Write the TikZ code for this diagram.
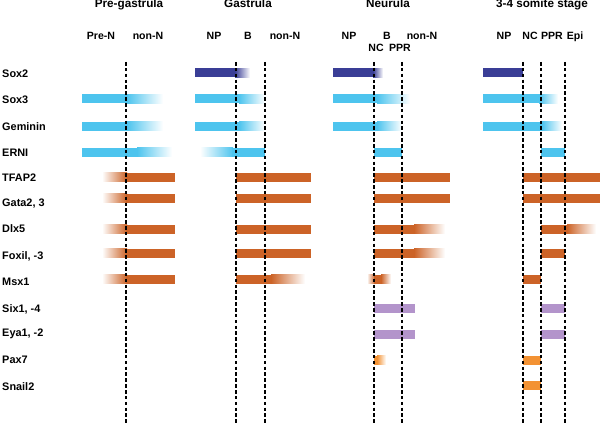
\documentclass[tikz,border=0pt]{standalone}
\usepackage{fontspec}
\setmainfont{Liberation Sans}
\usepackage{xcolor}
\usepackage{tikz}
\usetikzlibrary{positioning}
\definecolor{DeepBlue}{RGB}{58,62,150}
\definecolor{SkyBlue}{RGB}{77,196,238}
\definecolor{RustBrown}{RGB}{204,99,39}
\definecolor{SoftPurple}{RGB}{179,148,203}
\definecolor{WarmOrange}{RGB}{243,146,51}

\begin{document}
\begin{tikzpicture}[
  x=0.03cm, y=-0.03cm,
  stage/.style={font=\fontsize{10}{12}\selectfont\bfseries, anchor=base, inner sep=0pt},
  region/.style={font=\fontsize{9}{11}\selectfont\bfseries, anchor=base, inner sep=0pt},
  gene/.style={font=\fontsize{9.3}{11}\selectfont\bfseries, anchor=west, inner sep=0pt},
  divider/.style={black, line width=0.9pt, dash pattern=on 3pt off 2pt}
]
\useasboundingbox (0,0) rectangle (600,425);

% Stage headings
\node[stage] (pregas) at (129,8) {Pre-gastrula};
\node[stage] (gas) at (248,8) {Gastrula};
\node[stage] (neur) at (388,8) {Neurula};
\node[stage] (somite) at (542,8) {3-4 somite stage};

% Region labels
\node[region] (pgpre) at (101,40) {Pre-N};
\node[region] (pgnon) at (148,40) {non-N};
\node[region] (gnp) at (214,40) {NP};
\node[region] (gb) at (248,40) {B};
\node[region] (gnon) at (285,40) {non-N};
\node[region] (nnp) at (349,40) {NP};
\node[region] (nb) at (387,40) {B};
\node[region] (nnon) at (422,40) {non-N};
\node[region] (nnc) at (376,52) {NC};
\node[region] (nppr) at (400,52) {PPR};
\node[region] (snp) at (504,40) {NP};
\node[region] (snc) at (530,40) {NC};
\node[region] (sppr) at (552,40) {PPR};
\node[region] (sepi) at (575,40) {Epi};

% Gene names
\node[gene] (sox2) at (2,74) {Sox2};
\node[gene] (sox3) at (2,100) {Sox3};
\node[gene] (gem) at (2,127) {Geminin};
\node[gene] (erni) at (2,153) {ERNI};
\node[gene] (tfap) at (2,178) {TFAP2};
\node[gene] (gata) at (2,204) {Gata2, 3};
\node[gene] (dlx) at (2,229) {Dlx5};
\node[gene] (foxi) at (2,256) {Foxil, -3};
\node[gene] (msx) at (2,282) {Msx1};
\node[gene] (six) at (2,309) {Six1, -4};
\node[gene] (eya) at (2,334) {Eya1, -2};
\node[gene] (pax) at (2,360) {Pax7};
\node[gene] (snail) at (2,387) {Snail2};

% Pre-gastrula
\shade[left color=SkyBlue, right color=white] (127,94.5) rectangle (163,103.5);
\fill[SkyBlue] (82,94.5) rectangle (128,103.5);
\shade[left color=SkyBlue, right color=white] (127,121.5) rectangle (163,130.5);
\fill[SkyBlue] (82,121.5) rectangle (128,130.5);
\shade[left color=SkyBlue, right color=white] (137,147.5) rectangle (172,156.5);
\fill[SkyBlue] (82,147.5) rectangle (138,156.5);
\shade[left color=white, right color=RustBrown] (102,172.5) rectangle (127,181.5);
\fill[RustBrown] (126,172.5) rectangle (175,181.5);
\shade[left color=white, right color=RustBrown] (102,193.5) rectangle (127,202.5);
\fill[RustBrown] (126,193.5) rectangle (175,202.5);
\shade[left color=white, right color=RustBrown] (102,224.5) rectangle (127,233.5);
\fill[RustBrown] (126,224.5) rectangle (175,233.5);
\shade[left color=white, right color=RustBrown] (102,248.5) rectangle (127,257.5);
\fill[RustBrown] (126,248.5) rectangle (175,257.5);
\shade[left color=white, right color=RustBrown] (102,274.5) rectangle (127,283.5);
\fill[RustBrown] (126,274.5) rectangle (175,283.5);

% Gastrula
\shade[left color=DeepBlue, right color=white] (235,68.5) rectangle (250,77.5);
\fill[DeepBlue] (195,68.5) rectangle (236,77.5);
\shade[left color=SkyBlue, right color=white] (239,94.5) rectangle (265,103.5);
\fill[SkyBlue] (195,94.5) rectangle (240,103.5);
\shade[left color=SkyBlue, right color=white] (239,121.5) rectangle (265,130.5);
\fill[SkyBlue] (195,121.5) rectangle (240,130.5);
\shade[left color=white, right color=SkyBlue] (200,147.5) rectangle (233,156.5);
\fill[SkyBlue] (232,147.5) rectangle (265,156.5);
\fill[RustBrown] (236,172.5) rectangle (311,181.5);
\fill[RustBrown] (236,193.5) rectangle (311,202.5);
\fill[RustBrown] (236,224.5) rectangle (311,233.5);
\fill[RustBrown] (236,248.5) rectangle (311,257.5);
\shade[left color=RustBrown, right color=white] (271,274.5) rectangle (305,283.5);
\fill[RustBrown] (236,274.5) rectangle (272,283.5);

% Neurula
\shade[left color=DeepBlue, right color=white] (373,68.5) rectangle (383,77.5);
\fill[DeepBlue] (333,68.5) rectangle (374,77.5);
\shade[left color=SkyBlue, right color=white] (377,94.5) rectangle (410,103.5);
\fill[SkyBlue] (333,94.5) rectangle (378,103.5);
\shade[left color=SkyBlue, right color=white] (377,121.5) rectangle (402,130.5);
\fill[SkyBlue] (333,121.5) rectangle (378,130.5);
\fill[SkyBlue] (374,147.5) rectangle (402,156.5);
\fill[RustBrown] (374,172.5) rectangle (450,181.5);
\fill[RustBrown] (374,193.5) rectangle (450,202.5);
\shade[left color=RustBrown, right color=white] (414,224.5) rectangle (445,233.5);
\fill[RustBrown] (374,224.5) rectangle (415,233.5);
\shade[left color=RustBrown, right color=white] (414,248.5) rectangle (445,257.5);
\fill[RustBrown] (374,248.5) rectangle (415,257.5);
\shade[left color=white, right color=RustBrown] (367,274.5) rectangle (375,283.5);
\shade[left color=RustBrown, right color=white] (381,274.5) rectangle (391,283.5);
\fill[RustBrown] (374,274.5) rectangle (382,283.5);
\fill[SoftPurple] (374,303.5) rectangle (415,312.5);
\fill[SoftPurple] (374,329.5) rectangle (415,338.5);
\shade[left color=WarmOrange, right color=white] (377,355.5) rectangle (386,364.5);
\fill[WarmOrange] (374,355.5) rectangle (378,364.5);

% 3-4 somite stage
\fill[DeepBlue] (483,68.5) rectangle (523,77.5);
\shade[left color=SkyBlue, right color=white] (539,94.5) rectangle (558,103.5);
\fill[SkyBlue] (483,94.5) rectangle (540,103.5);
\shade[left color=SkyBlue, right color=white] (542,121.5) rectangle (562,130.5);
\fill[SkyBlue] (483,121.5) rectangle (543,130.5);
\fill[SkyBlue] (541,147.5) rectangle (565,156.5);
\fill[RustBrown] (523,172.5) rectangle (600,181.5);
\fill[RustBrown] (523,193.5) rectangle (600,202.5);
\shade[left color=RustBrown, right color=white] (567,224.5) rectangle (596,233.5);
\fill[RustBrown] (541,224.5) rectangle (568,233.5);
\fill[RustBrown] (541,248.5) rectangle (565,257.5);
\fill[RustBrown] (523,274.5) rectangle (541,283.5);
\fill[SoftPurple] (541,303.5) rectangle (565,312.5);
\fill[SoftPurple] (541,329.5) rectangle (565,338.5);
\fill[WarmOrange] (523,355.5) rectangle (541,364.5);
\fill[WarmOrange] (523,380.5) rectangle (541,389.5);

% Boundaries
\draw[divider] (126,62) -- (126,425);
\draw[divider] (236,62) -- (236,425);
\draw[divider] (265,62) -- (265,425);
\draw[divider] (374,62) -- (374,425);
\draw[divider] (402,62) -- (402,425);
\draw[divider] (523,62) -- (523,425);
\draw[divider] (541,62) -- (541,425);
\draw[divider] (565,62) -- (565,425);
\end{tikzpicture}
\end{document}
